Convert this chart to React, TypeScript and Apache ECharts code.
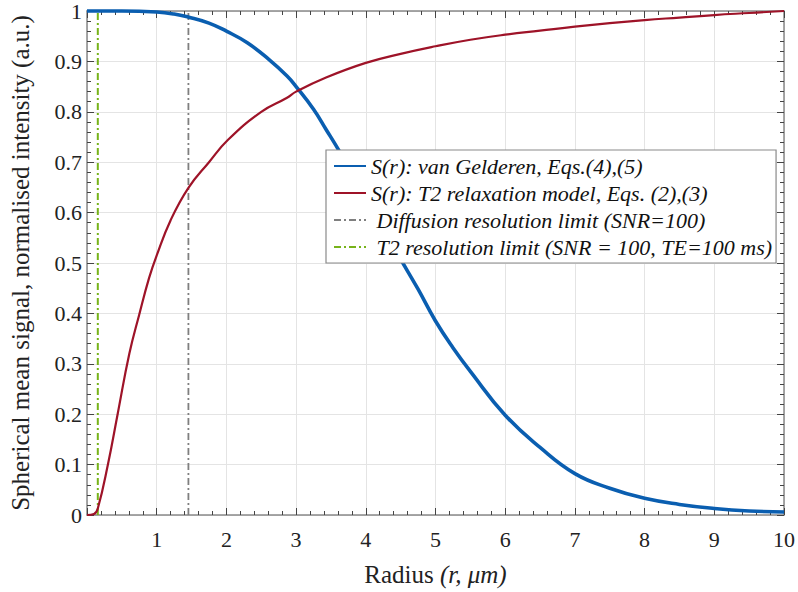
import React, { useEffect, useRef } from "react";
import * as echarts from "echarts";

const radiusBlue = [0, 0.5, 1.0, 1.25, 1.45, 1.75, 2.0, 2.3, 2.6, 2.87, 3.0, 3.25, 3.43, 3.62, 4.0, 4.44, 4.75, 5.0, 5.25, 5.5, 6.0, 6.5, 7.0, 7.5, 8.0, 8.5, 9.0, 9.5, 10];
const vanGelderen = [1.0, 1.0, 0.998, 0.994, 0.988, 0.976, 0.96, 0.937, 0.905, 0.871, 0.85, 0.805, 0.765, 0.722, 0.632, 0.522, 0.448, 0.385, 0.332, 0.285, 0.198, 0.134, 0.082, 0.053, 0.033, 0.021, 0.013, 0.008, 0.006];

const radiusRed = [0, 0.1, 0.155, 0.3, 0.442, 0.607, 0.75, 0.89, 1.0, 1.2, 1.455, 1.75, 2.02, 2.5, 2.87, 3.0, 3.43, 4.0, 4.5, 5.0, 5.5, 6.0, 6.5, 7.0, 7.5, 8.0, 8.5, 9.0, 9.5, 10];
const t2Model = [0, 0.002, 0.013, 0.1, 0.202, 0.32, 0.398, 0.47, 0.515, 0.585, 0.649, 0.70, 0.744, 0.80, 0.828, 0.84, 0.868, 0.897, 0.915, 0.93, 0.943, 0.953, 0.961, 0.969, 0.976, 0.982, 0.987, 0.992, 0.996, 1.0];

const diffusionLimit = 1.455;
const t2Limit = 0.155;

const seriesNames = [
  "S(r): van Gelderen, Eqs.(4),(5)",
  "S(r): T2 relaxation model, Eqs. (2),(3)",
  " Diffusion resolution limit (SNR=100)",
  " T2 resolution limit (SNR = 100, TE=100 ms)",
];

const FONT = "Liberation Serif";

export default function App() {
  const ref = useRef<HTMLDivElement>(null);
  useEffect(() => {
    if (!ref.current) return;
    const chart = echarts.init(ref.current, null, { renderer: "svg" });
    const blueData = radiusBlue.map((r, i) => [r, vanGelderen[i]]);
    const redData = radiusRed.map((r, i) => [r, t2Model[i]]);
    const axisLineColor = "#8a8a8a";
    const tickColor = "#444";
    const gridColor = "#e4e4e4";
    const commonX = { type: "value", min: 0, max: 10, interval: 1 };
    const commonY = { type: "value", min: 0, max: 1, interval: 0.1 };
    const tickCfg = {
      axisLine: { show: true, onZero: false, lineStyle: { color: axisLineColor, width: 1.5 } },
      axisTick: { show: true, inside: true, length: 7, lineStyle: { color: tickColor } },
      minorTick: { show: true, splitNumber: 5, length: 4, lineStyle: { color: tickColor } },
    };
    chart.setOption({
      animation: false,
      backgroundColor: "#ffffff",
      grid: { left: 77, right: 13, top: 9, bottom: 72, containLabel: false },
      xAxis: [
        {
          ...commonX,
          ...tickCfg,
          position: "bottom",
          name: "{n|Radius }{i|(r, μm)}",
          nameLocation: "middle",
          nameGap: 47,
          nameTextStyle: {
            rich: {
              n: { fontFamily: FONT, fontSize: 25, color: "#222" },
              i: { fontFamily: FONT, fontSize: 25, fontStyle: "italic", color: "#222" },
            },
          },
          axisLabel: { showMinLabel: false, margin: 13, fontFamily: FONT, fontSize: 22, color: "#222" },
          splitLine: { show: true, lineStyle: { color: gridColor, width: 1 } },
        },
        { ...commonX, ...tickCfg, position: "top", axisLabel: { show: false }, splitLine: { show: false } },
      ],
      yAxis: [
        {
          ...commonY,
          ...tickCfg,
          position: "left",
          name: "Spherical mean signal, normalised intensity (a.u.)",
          nameLocation: "middle",
          nameGap: 54,
          nameTextStyle: { fontFamily: FONT, fontSize: 25, color: "#222" },
          axisLabel: { margin: 5, fontFamily: FONT, fontSize: 22, color: "#222" },
          splitLine: { show: true, lineStyle: { color: gridColor, width: 1 } },
        },
        { ...commonY, ...tickCfg, position: "right", axisLabel: { show: false }, splitLine: { show: false } },
      ],
      legend: {
        orient: "vertical",
        left: 326,
        top: 150,
        padding: [5, 4, 5, 7],
        itemGap: 5,
        itemWidth: 32,
        itemHeight: 14,
        backgroundColor: "#ffffff",
        borderColor: "#8a8a8a",
        borderWidth: 1.2,
        borderRadius: 0,
        z: 10,
        itemStyle: { opacity: 0 },
        textStyle: { fontFamily: FONT, fontStyle: "italic", fontSize: 22, color: "#111" },
        data: seriesNames,
      },
      series: [
        {
          name: seriesNames[0], type: "line", data: blueData, smooth: 0.45, showSymbol: false, symbol: "none",
          clip: false, z: 3, lineStyle: { color: "#0a5eb0", width: 3.6 }, itemStyle: { color: "#0a5eb0" },
        },
        {
          name: seriesNames[1], type: "line", data: redData, smooth: 0.45, showSymbol: false, symbol: "none",
          clip: false, z: 3, lineStyle: { color: "#9e1328", width: 2.2 }, itemStyle: { color: "#9e1328" },
        },
        {
          name: seriesNames[2], type: "line", data: [[diffusionLimit, 0], [diffusionLimit, 1]], showSymbol: false,
          symbol: "none", z: 2, lineStyle: { color: "#7f7f7f", width: 1.8, type: [7, 3, 2, 3] }, itemStyle: { color: "#7f7f7f" },
        },
        {
          name: seriesNames[3], type: "line", data: [[t2Limit, 0], [t2Limit, 1]], showSymbol: false,
          symbol: "none", z: 2, lineStyle: { color: "#77b31a", width: 2, type: [7, 3, 2, 3] }, itemStyle: { color: "#77b31a" },
        },
      ],
    });
    return () => chart.dispose();
  }, []);
  return <div ref={ref} style={{ width: 798, height: 592, position: "fixed", left: 0, top: 0 }} />;
}
